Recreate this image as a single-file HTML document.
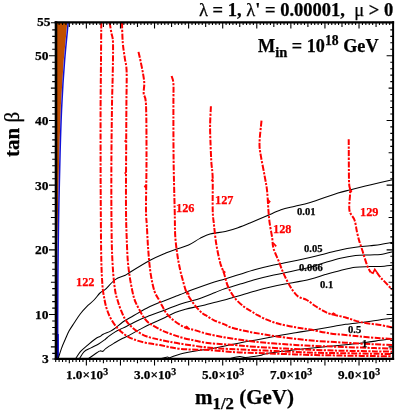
<!DOCTYPE html>
<html><head><meta charset="utf-8"><title>plot</title>
<style>
html,body{margin:0;padding:0;background:#fff;}
body{width:395px;height:415px;position:relative;overflow:hidden;font-family:"Liberation Serif",serif;}
.t{position:absolute;will-change:transform;-webkit-text-stroke:0.25px currentColor;white-space:nowrap;font-weight:bold;line-height:1;font-family:"Liberation Serif",serif;}
.n{font-weight:normal;}
sup,sub{line-height:0;}
</style></head><body>
<svg width="395" height="415" viewBox="0 0 395 415" style="position:absolute;left:0;top:0">
<path d="M56 22.5 L67.3 22.5 L63.7 60.6 L60.9 105 L59.3 152 L58.4 190 L57.7 225 L57.3 240 L56 240 Z" fill="#c04f00" stroke="none"/>
<path d="M68.2 22.5 C67.6 28.9 65.7 46.9 64.6 60.6 C63.5 74.3 62.5 89.8 61.8 105.0 C61.0 120.2 60.5 137.8 60.1 152.0 C59.7 166.2 59.5 177.8 59.2 190.0 C58.9 202.2 58.7 210.5 58.5 225.0 C58.3 239.5 58.0 261.2 57.9 277.0 C57.8 292.8 57.7 306.5 57.7 320.0 C57.7 333.5 57.7 351.7 57.7 358.0" fill="none" stroke="#1010d8" stroke-width="1.5"/>
<path d="M57.8 334.0 L57.8 358.0" fill="none" stroke="#0000c0" stroke-width="2.0"/>
<path d="M58.4 358.0 C58.9 356.4 60.3 351.7 61.4 348.6 C62.5 345.5 63.9 342.4 65.2 339.5 C66.5 336.6 67.5 333.9 69.0 331.1 C70.5 328.3 72.4 325.7 74.3 322.8 C76.2 319.9 78.4 316.4 80.4 313.7 C82.4 311.0 84.2 309.1 86.5 306.8 C88.8 304.5 91.8 302.3 94.0 300.0 C96.2 297.7 98.2 294.7 100.0 293.0 C101.8 291.3 102.5 291.9 105.0 289.7 C107.5 287.5 111.8 282.0 115.2 279.6 C118.6 277.2 122.8 276.6 125.3 275.3 C127.8 274.0 126.2 274.6 130.4 272.0 C134.6 269.4 144.7 263.2 150.6 260.0 C156.5 256.8 161.6 254.8 165.8 253.0 C170.0 251.2 172.2 250.5 176.0 249.2 C179.8 247.9 184.6 246.8 188.6 245.0 C192.6 243.2 196.4 240.2 200.0 238.4 C203.6 236.6 205.8 235.2 210.0 234.0 C214.2 232.8 220.6 232.6 225.3 231.5 C230.0 230.4 233.8 229.2 238.0 227.7 C242.2 226.2 246.0 224.6 250.6 222.7 C255.2 220.8 260.7 218.5 265.8 216.3 C270.9 214.2 276.1 211.5 281.0 209.8 C285.9 208.1 290.1 207.5 295.0 206.3 C299.9 205.1 303.0 204.7 310.2 202.5 C317.4 200.3 331.2 195.1 338.0 193.0 C344.8 190.9 345.2 191.2 350.7 189.8 C356.2 188.4 364.0 186.4 371.0 184.7 C378.0 183.0 388.9 180.5 392.5 179.7" fill="none" stroke="#000" stroke-width="1.05" stroke-linejoin="round"/>
<path d="M75.8 358.5 C76.6 357.4 78.4 353.9 80.4 351.6 C82.4 349.3 85.5 347.0 88.0 344.8 C90.5 342.6 93.6 340.1 95.6 338.7 C97.6 337.3 98.7 337.2 100.0 336.5 C101.3 335.8 101.4 335.1 103.2 334.2 C105.0 333.3 108.6 332.1 110.6 331.1 C112.6 330.1 113.2 329.6 115.2 328.1 C117.2 326.6 120.3 323.8 122.8 322.0 C125.3 320.2 127.6 319.1 130.4 317.5 C133.2 315.9 136.2 314.0 139.5 312.2 C142.8 310.4 146.6 308.2 150.0 306.6 C153.4 305.0 157.5 303.3 160.0 302.3 C162.5 301.3 162.6 301.6 165.1 300.6 C167.6 299.6 172.7 297.5 175.2 296.5 C177.8 295.5 176.9 295.9 180.2 294.6 C183.5 293.3 189.9 290.7 195.0 288.8 C200.1 286.9 205.6 284.9 210.6 283.2 C215.6 281.5 220.1 280.4 225.0 278.9 C229.9 277.4 235.1 275.8 240.2 274.2 C245.3 272.6 250.3 271.0 255.4 269.6 C260.5 268.2 265.7 266.9 270.6 265.8 C275.5 264.7 278.4 264.2 285.0 262.8 C291.6 261.4 303.3 259.0 310.0 257.5 C316.7 256.0 320.1 255.0 325.2 253.7 C330.3 252.4 335.3 251.0 340.4 249.9 C345.5 248.8 350.7 248.0 355.6 247.3 C360.5 246.6 365.8 246.3 370.0 245.8 C374.2 245.3 376.9 245.1 380.6 244.5 C384.4 243.9 390.5 242.7 392.5 242.3" fill="none" stroke="#000" stroke-width="1.05" stroke-linejoin="round"/>
<path d="M79.6 358.5 C80.4 357.4 82.3 353.4 84.2 351.6 C86.1 349.8 88.6 349.2 91.0 347.9 C93.4 346.6 96.3 345.4 98.6 344.0 C100.9 342.6 103.2 340.9 104.7 339.8 C106.2 338.7 105.8 338.5 107.6 337.2 C109.3 335.9 112.7 333.4 115.2 331.9 C117.7 330.4 120.3 329.4 122.8 328.1 C125.3 326.8 127.6 325.7 130.4 324.3 C133.2 322.9 136.2 321.1 139.5 319.7 C142.8 318.2 145.7 317.2 150.0 315.6 C154.3 314.0 160.9 311.6 165.1 310.0 C169.3 308.4 171.9 307.1 175.2 305.9 C178.6 304.7 182.1 303.6 185.4 302.6 C188.7 301.6 191.7 301.0 195.0 300.0 C198.3 299.0 201.7 297.7 205.1 296.4 C208.5 295.1 211.9 293.7 215.2 292.4 C218.6 291.1 221.2 289.9 225.4 288.5 C229.6 287.1 235.2 285.6 240.2 284.1 C245.2 282.6 250.3 280.9 255.4 279.5 C260.5 278.1 265.7 276.8 270.6 275.7 C275.5 274.6 278.4 274.1 285.0 272.7 C291.6 271.3 303.3 269.0 310.0 267.3 C316.7 265.6 320.1 264.0 325.2 262.5 C330.3 261.0 335.3 259.4 340.4 258.2 C345.5 257.0 350.7 256.1 355.6 255.5 C360.5 254.9 365.8 255.1 370.0 254.9 C374.2 254.7 376.9 255.0 380.6 254.5 C384.4 254.0 390.5 252.2 392.5 251.7" fill="none" stroke="#000" stroke-width="1.05" stroke-linejoin="round"/>
<path d="M88.7 358.5 C89.6 357.9 92.3 355.8 94.0 354.7 C95.7 353.6 97.6 352.2 98.6 351.6 C99.6 351.0 99.3 350.9 100.0 350.9 C100.7 350.8 102.0 351.7 103.0 351.3 C104.0 350.9 104.0 349.8 106.0 348.3 C108.0 346.8 112.4 344.2 115.2 342.5 C118.0 340.8 120.3 339.6 122.8 338.3 C125.3 337.0 127.6 336.1 130.4 334.6 C133.2 333.2 136.2 331.3 139.5 329.6 C142.8 327.9 145.7 326.3 150.0 324.3 C154.3 322.3 160.9 319.3 165.1 317.4 C169.3 315.4 171.9 314.0 175.2 312.6 C178.6 311.2 182.1 310.2 185.4 309.3 C188.7 308.4 191.7 307.8 195.0 307.1 C198.3 306.4 201.7 305.7 205.1 304.9 C208.5 304.1 211.9 303.0 215.2 302.2 C218.6 301.4 221.2 300.9 225.4 299.8 C229.6 298.7 235.2 296.9 240.2 295.4 C245.2 293.9 250.3 292.3 255.4 290.9 C260.5 289.5 265.7 288.2 270.6 287.1 C275.5 286.0 278.4 285.4 285.0 284.1 C291.6 282.8 303.3 280.8 310.0 279.2 C316.7 277.6 320.1 276.1 325.2 274.6 C330.3 273.1 335.3 271.6 340.4 270.4 C345.5 269.2 350.7 267.9 355.6 267.3 C360.5 266.7 365.8 266.8 370.0 266.6 C374.2 266.5 376.9 266.6 380.6 266.4 C384.4 266.2 390.5 265.4 392.5 265.2" fill="none" stroke="#000" stroke-width="1.05" stroke-linejoin="round"/>
<path d="M161.4 358.5 C162.4 358.2 166.1 357.1 167.5 357.0 C168.9 356.9 167.5 358.2 169.7 357.7 C171.8 357.2 176.1 355.0 180.4 353.9 C184.7 352.8 190.7 351.7 195.6 350.9 C200.5 350.1 204.2 349.9 210.0 348.9 C215.8 347.9 224.5 346.0 230.4 344.8 C236.3 343.6 240.7 342.7 245.6 341.8 C250.5 340.9 254.2 340.3 260.0 339.2 C265.8 338.1 274.5 336.3 280.4 335.2 C286.3 334.1 290.7 333.5 295.6 332.7 C300.5 331.9 304.2 331.3 310.0 330.4 C315.8 329.4 324.5 328.0 330.4 327.0 C336.3 326.0 339.8 325.1 345.6 324.3 C351.4 323.5 359.6 322.8 365.4 322.0 C371.2 321.2 376.2 320.3 380.6 319.7 C385.0 319.1 390.1 318.4 392.0 318.2" fill="none" stroke="#000" stroke-width="1.05" stroke-linejoin="round"/>
<path d="M228.9 358.9 C230.7 358.5 236.7 356.8 239.5 356.5 C242.3 356.2 242.2 357.6 245.6 357.4 C249.0 357.2 256.7 356.0 260.0 355.4 C263.3 354.8 261.8 354.5 265.2 353.9 C268.6 353.3 275.3 352.3 280.4 351.6 C285.5 350.9 290.7 350.4 295.6 349.8 C300.5 349.2 304.2 348.9 310.0 348.3 C315.8 347.7 324.5 346.9 330.4 346.3 C336.3 345.7 339.8 345.4 345.6 344.8 C351.4 344.2 359.6 343.2 365.4 342.5 C371.2 341.8 376.2 340.9 380.6 340.3 C385.0 339.7 390.1 339.0 392.0 338.7" fill="none" stroke="#000" stroke-width="1.05" stroke-linejoin="round"/>
<path d="M101.3 22.5 C101.2 28.8 101.1 46.2 101.0 60.0 C100.9 73.8 100.7 88.3 100.6 105.0 C100.5 121.7 100.6 142.5 100.6 160.0 C100.6 177.5 100.7 193.3 100.8 210.0 C100.9 226.7 101.0 247.3 101.3 260.0 C101.6 272.7 102.0 279.3 102.5 286.0 C103.0 292.7 103.9 296.2 104.6 300.0 C105.3 303.8 105.8 306.0 106.8 309.0 C107.8 312.0 108.9 315.1 110.6 318.2 C112.2 321.2 114.4 324.6 116.7 327.3 C119.0 330.0 121.5 332.2 124.3 334.2 C127.1 336.2 129.8 337.8 133.4 339.2 C137.0 340.6 141.2 341.8 145.6 342.8 C150.0 343.8 154.2 344.1 160.0 345.1 C165.8 346.1 172.1 348.1 180.4 348.9 C188.7 349.7 200.9 349.6 210.0 350.1 C219.1 350.7 227.5 351.7 235.0 352.2 C242.5 352.7 248.3 352.8 255.0 353.0 C261.7 353.2 268.3 353.5 275.0 353.7 C281.7 353.9 288.3 354.2 295.0 354.4 C301.7 354.6 308.3 354.9 315.0 355.1 C321.7 355.2 328.3 355.3 335.0 355.4 C341.7 355.6 348.3 355.7 355.0 355.8 C361.7 355.9 368.8 356.0 375.0 356.1 C381.2 356.2 389.2 356.3 392.0 356.3" fill="none" stroke="#ff0000" stroke-width="2.0" stroke-dasharray="6 1.4 2.2 1.5" stroke-linejoin="round"/>
<path d="M109.6 22.5 C109.9 24.2 110.8 29.6 111.4 33.0 C112.0 36.4 112.8 35.8 113.0 43.0 C113.2 50.2 112.9 65.7 112.7 76.0 C112.5 86.3 112.2 91.0 112.0 105.0 C111.8 119.0 111.5 142.5 111.4 160.0 C111.3 177.5 111.3 195.3 111.4 210.0 C111.5 224.7 111.6 237.4 111.9 248.0 C112.2 258.6 112.7 266.1 113.2 273.3 C113.8 280.5 114.5 286.6 115.2 291.0 C115.9 295.4 116.6 297.0 117.5 300.0 C118.4 303.0 119.2 305.9 120.5 309.1 C121.8 312.3 123.3 316.2 125.0 319.0 C126.7 321.8 128.2 323.7 130.4 325.8 C132.6 327.9 135.2 330.1 138.0 331.9 C140.8 333.7 143.3 335.2 147.0 336.5 C150.7 337.8 154.4 338.6 160.0 339.8 C165.6 341.0 172.1 342.4 180.4 343.7 C188.7 345.0 200.9 346.9 210.0 347.8 C219.1 348.7 227.5 348.8 235.0 349.2 C242.5 349.6 248.3 349.9 255.0 350.2 C261.7 350.5 268.3 350.7 275.0 351.0 C281.7 351.3 288.3 351.6 295.0 351.9 C301.7 352.2 308.3 352.5 315.0 352.7 C321.7 352.9 328.3 353.0 335.0 353.1 C341.7 353.2 348.3 353.3 355.0 353.4 C361.7 353.5 368.8 353.6 375.0 353.8 C381.2 353.9 389.2 354.0 392.0 354.0" fill="none" stroke="#ff0000" stroke-width="2.0" stroke-dasharray="6 1.4 2.2 1.5" stroke-linejoin="round"/>
<path d="M122.0 22.5 C122.1 25.9 122.3 37.0 122.8 43.0 C123.3 49.0 124.2 53.6 124.8 58.2 C125.4 62.9 126.3 63.1 126.6 70.9 C126.9 78.7 126.5 90.2 126.4 105.0 C126.3 119.8 126.2 142.5 126.1 160.0 C126.0 177.5 125.9 197.4 126.0 210.0 C126.1 222.6 126.3 226.9 126.6 235.3 C126.9 243.7 127.2 253.0 127.8 260.6 C128.4 268.2 129.3 274.6 130.4 280.9 C131.5 287.2 132.8 294.0 134.2 298.6 C135.6 303.2 137.2 305.4 138.7 308.4 C140.2 311.4 141.7 314.3 143.3 316.7 C145.0 319.1 146.2 320.9 148.6 322.8 C151.0 324.7 154.8 326.6 157.6 328.1 C160.4 329.6 161.4 330.4 165.2 331.9 C169.0 333.4 175.3 335.7 180.4 337.2 C185.5 338.7 190.7 339.7 195.6 340.7 C200.5 341.7 203.4 342.6 210.0 343.3 C216.6 344.0 227.5 344.5 235.0 345.1 C242.5 345.7 248.3 346.3 255.0 346.8 C261.7 347.3 268.3 347.6 275.0 348.0 C281.7 348.4 288.3 348.8 295.0 349.1 C301.7 349.4 308.3 349.8 315.0 350.0 C321.7 350.2 328.3 350.4 335.0 350.6 C341.7 350.7 348.3 350.9 355.0 351.0 C361.7 351.1 368.8 351.3 375.0 351.4 C381.2 351.5 389.2 351.6 392.0 351.7" fill="none" stroke="#ff0000" stroke-width="2.0" stroke-dasharray="6 1.4 2.2 1.5" stroke-linejoin="round"/>
<path d="M138.5 51.9 C138.8 53.4 139.8 57.2 140.5 60.8 C141.2 64.4 142.4 69.6 143.0 73.4 C143.6 77.2 144.2 80.1 144.3 83.5 C144.4 86.9 143.4 90.1 143.7 93.7 C144.0 97.3 145.5 94.0 146.0 105.0 C146.5 116.0 146.5 142.5 146.5 160.0 C146.5 177.5 145.9 199.2 146.0 210.0 C146.1 220.8 146.5 218.7 146.8 225.0 C147.2 231.3 147.5 239.9 148.1 248.0 C148.7 256.1 149.5 266.1 150.6 273.3 C151.7 280.5 153.0 286.6 154.4 291.0 C155.8 295.4 157.8 297.5 159.1 300.0 C160.4 302.5 160.9 303.7 162.2 306.0 C163.5 308.3 164.9 311.4 166.7 313.7 C168.5 316.0 170.5 317.8 172.8 319.7 C175.1 321.6 178.1 323.6 180.4 325.0 C182.7 326.4 184.0 327.2 186.5 328.1 C189.0 329.0 191.7 329.3 195.6 330.4 C199.5 331.5 203.4 333.2 210.0 334.6 C216.6 336.0 227.5 337.9 235.0 339.1 C242.5 340.2 248.3 340.9 255.0 341.7 C261.7 342.5 268.3 343.1 275.0 343.6 C281.7 344.1 288.3 344.5 295.0 344.9 C301.7 345.3 308.3 345.6 315.0 345.9 C321.7 346.2 328.3 346.4 335.0 346.7 C341.7 346.9 348.3 347.2 355.0 347.4 C361.7 347.6 368.8 347.9 375.0 348.1 C381.2 348.3 389.2 348.6 392.0 348.7" fill="none" stroke="#ff0000" stroke-width="2.0" stroke-dasharray="6 1.4 2.2 1.5" stroke-linejoin="round"/>
<path d="M171.6 76.0 C171.9 77.2 173.1 78.7 173.4 83.5 C173.7 88.3 173.4 92.2 173.4 105.0 C173.4 117.8 173.4 142.5 173.6 160.0 C173.8 177.5 174.4 197.4 174.7 210.0 C175.0 222.6 174.8 227.8 175.2 235.3 C175.6 242.8 176.6 249.2 177.4 255.0 C178.2 260.8 179.3 266.0 180.2 270.0 C181.0 274.0 181.6 275.8 182.5 279.1 C183.4 282.4 184.6 287.1 185.5 289.7 C186.4 292.3 186.7 292.8 187.8 294.8 C188.9 296.8 190.7 299.6 192.3 301.9 C194.0 304.2 195.9 306.7 197.7 308.7 C199.5 310.7 201.5 312.6 203.0 313.8 C204.5 315.0 205.0 314.8 206.8 315.8 C208.6 316.9 210.6 318.6 213.6 320.1 C216.6 321.6 222.2 323.4 225.0 324.6 C227.8 325.8 227.0 326.2 230.4 327.3 C233.8 328.4 240.7 330.0 245.6 331.1 C250.5 332.2 255.1 332.9 260.0 333.7 C264.9 334.5 269.2 335.3 275.0 336.2 C280.8 337.1 288.3 338.0 295.0 338.8 C301.7 339.6 308.3 340.3 315.0 340.9 C321.7 341.4 328.3 341.7 335.0 342.1 C341.7 342.5 348.3 342.9 355.0 343.3 C361.7 343.7 368.8 344.0 375.0 344.3 C381.2 344.6 389.2 345.0 392.0 345.1" fill="none" stroke="#ff0000" stroke-width="2.0" stroke-dasharray="6 1.4 2.2 1.5" stroke-linejoin="round"/>
<path d="M210.9 106.3 C210.8 109.4 210.2 118.5 210.1 125.0 C210.0 131.5 210.4 139.2 210.6 145.5 C210.8 151.8 211.1 157.5 211.4 163.0 C211.8 168.5 212.5 170.6 212.7 178.4 C212.9 186.2 212.5 202.2 212.7 210.0 C212.9 217.8 213.4 219.1 214.0 225.0 C214.6 230.9 215.4 239.0 216.5 245.4 C217.6 251.8 219.1 258.6 220.3 263.2 C221.6 267.8 222.8 269.5 224.0 273.3 C225.2 277.1 226.1 282.0 227.8 286.0 C229.5 290.0 231.5 293.8 234.2 297.3 C236.9 300.8 241.1 304.5 244.0 306.8 C246.9 309.1 249.3 310.0 251.6 311.4 C253.9 312.8 255.3 313.9 257.6 315.2 C259.9 316.5 262.7 317.9 265.2 319.0 C267.7 320.1 270.3 321.1 272.8 322.0 C275.3 322.9 276.6 323.4 280.4 324.3 C284.2 325.2 290.7 326.4 295.6 327.3 C300.5 328.2 304.2 328.6 310.0 329.6 C315.8 330.6 323.7 332.4 330.4 333.4 C337.1 334.4 344.4 334.8 350.2 335.4 C356.0 336.0 360.4 336.5 365.4 337.0 C370.4 337.5 375.6 337.9 380.0 338.2 C384.4 338.5 390.0 338.9 392.0 339.0" fill="none" stroke="#ff0000" stroke-width="2.0" stroke-dasharray="6 1.4 2.2 1.5" stroke-linejoin="round"/>
<path d="M261.5 120.7 C261.2 124.4 259.6 137.2 259.5 143.0 C259.4 148.8 259.9 150.1 260.8 155.6 C261.7 161.1 263.6 170.0 264.6 175.9 C265.7 181.8 266.5 185.3 267.1 191.0 C267.7 196.7 268.0 204.7 268.4 210.0 C268.8 215.3 269.0 218.1 269.6 222.7 C270.2 227.3 271.6 233.6 272.2 237.8 C272.8 242.0 272.3 244.2 273.4 248.0 C274.4 251.8 276.8 256.4 278.5 260.6 C280.2 264.8 281.6 269.1 283.5 273.3 C285.4 277.5 287.6 282.2 289.9 286.0 C292.2 289.8 294.7 293.7 297.5 296.0 C300.3 298.3 303.9 298.3 306.8 300.0 C309.8 301.7 312.5 304.2 315.2 306.0 C317.9 307.8 320.3 309.3 322.8 310.6 C325.3 311.9 326.6 312.9 330.4 314.0 C334.2 315.1 340.7 316.2 345.6 317.5 C350.5 318.8 354.2 320.7 360.0 322.0 C365.8 323.3 375.3 324.2 380.6 325.1 C385.9 326.0 390.1 327.2 392.0 327.6" fill="none" stroke="#ff0000" stroke-width="2.0" stroke-dasharray="6 1.4 2.2 1.5" stroke-linejoin="round"/>
<path d="M348.7 139.2 C348.8 146.2 348.8 172.4 349.0 181.0 C349.2 189.6 350.1 186.2 350.2 191.0 C350.3 195.8 348.7 205.2 349.4 210.0 C350.1 214.8 353.2 216.3 354.5 220.0 C355.8 223.7 356.2 228.5 357.0 232.0 C357.8 235.5 358.4 238.1 359.3 241.1 C360.2 244.1 361.4 247.4 362.3 250.2 C363.2 253.0 363.7 255.0 364.6 257.8 C365.5 260.6 366.7 264.5 367.7 266.9 C368.7 269.3 370.2 271.4 370.7 272.3" fill="none" stroke="#ff0000" stroke-width="2.0" stroke-dasharray="6 1.4 2.2 1.5" stroke-linejoin="round"/>
<path d="M376.8 272.3 C377.4 273.2 379.2 276.0 380.6 277.6 C382.0 279.2 383.2 280.1 385.1 282.1 C387.0 284.1 390.9 288.4 392.0 289.7" fill="none" stroke="#ff0000" stroke-width="2.0" stroke-dasharray="6 1.4 2.2 1.5" stroke-linejoin="round"/>
<path d="M370.7 272.3 L373.0 273.2 L374.8 269.4 L376.8 272.3" fill="none" stroke="#ff0000" stroke-width="1.6"/>
<path d="M126.2 140.2 L124.5 141.6" fill="none" stroke="#ff0000" stroke-width="1.6"/>
<path d="M126.2 172.2 L124.6 173.6" fill="none" stroke="#ff0000" stroke-width="1.6"/>
<path d="M146.4 184.8 L144.8 186.4 L146.0 188.0" fill="none" stroke="#ff0000" stroke-width="1.6"/>
<path d="M213.0 179.0 L211.3 180.8" fill="none" stroke="#ff0000" stroke-width="1.6"/>
<path d="M267.5 199.5 L269.7 201.6 L268.2 203.4" fill="none" stroke="#ff0000" stroke-width="1.6"/>
<path d="M273.2 243.0 L276.2 246.4" fill="none" stroke="#ff0000" stroke-width="1.6"/>
<path d="M222.6 270.4 L225.4 272.6" fill="none" stroke="#ff0000" stroke-width="1.6"/>
<path d="M186.8 291.6 L189.2 294.6" fill="none" stroke="#ff0000" stroke-width="1.6"/>
<path d="M184.8 327.9 L186.6 326.6 L188.4 328.0" fill="none" stroke="#ff0000" stroke-width="1.6"/>
<path d="M331.5 314.6 L333.4 313.2 L335.4 314.4" fill="none" stroke="#ff0000" stroke-width="1.6"/>
<path d="M349.6 189.0 L351.4 191.0 L349.8 193.0" fill="none" stroke="#ff0000" stroke-width="1.6"/>
<path d="M55.70 22.30 v2.80 M55.70 358.90 v3.00 M59.11 22.30 v2.80 M59.11 358.90 v3.00 M62.52 22.30 v2.80 M62.52 358.90 v3.00 M65.92 22.30 v2.80 M65.92 358.90 v3.00 M69.33 22.30 v4.80 M69.33 358.90 v4.30 M72.74 22.30 v2.80 M72.74 358.90 v3.00 M76.15 22.30 v2.80 M76.15 358.90 v3.00 M79.56 22.30 v2.80 M79.56 358.90 v3.00 M82.96 22.30 v2.80 M82.96 358.90 v3.00 M86.37 22.30 v6.30 M86.37 358.90 v6.50 M89.78 22.30 v2.80 M89.78 358.90 v3.00 M93.19 22.30 v2.80 M93.19 358.90 v3.00 M96.60 22.30 v2.80 M96.60 358.90 v3.00 M100.01 22.30 v2.80 M100.01 358.90 v3.00 M103.41 22.30 v4.80 M103.41 358.90 v4.30 M106.82 22.30 v2.80 M106.82 358.90 v3.00 M110.23 22.30 v2.80 M110.23 358.90 v3.00 M113.64 22.30 v2.80 M113.64 358.90 v3.00 M117.05 22.30 v2.80 M117.05 358.90 v3.00 M120.45 22.30 v6.30 M120.45 358.90 v6.50 M123.86 22.30 v2.80 M123.86 358.90 v3.00 M127.27 22.30 v2.80 M127.27 358.90 v3.00 M130.68 22.30 v2.80 M130.68 358.90 v3.00 M134.09 22.30 v2.80 M134.09 358.90 v3.00 M137.49 22.30 v4.80 M137.49 358.90 v4.30 M140.90 22.30 v2.80 M140.90 358.90 v3.00 M144.31 22.30 v2.80 M144.31 358.90 v3.00 M147.72 22.30 v2.80 M147.72 358.90 v3.00 M151.13 22.30 v2.80 M151.13 358.90 v3.00 M154.53 22.30 v6.30 M154.53 358.90 v6.50 M157.94 22.30 v2.80 M157.94 358.90 v3.00 M161.35 22.30 v2.80 M161.35 358.90 v3.00 M164.76 22.30 v2.80 M164.76 358.90 v3.00 M168.17 22.30 v2.80 M168.17 358.90 v3.00 M171.57 22.30 v4.80 M171.57 358.90 v4.30 M174.98 22.30 v2.80 M174.98 358.90 v3.00 M178.39 22.30 v2.80 M178.39 358.90 v3.00 M181.80 22.30 v2.80 M181.80 358.90 v3.00 M185.21 22.30 v2.80 M185.21 358.90 v3.00 M188.62 22.30 v6.30 M188.62 358.90 v6.50 M192.02 22.30 v2.80 M192.02 358.90 v3.00 M195.43 22.30 v2.80 M195.43 358.90 v3.00 M198.84 22.30 v2.80 M198.84 358.90 v3.00 M202.25 22.30 v2.80 M202.25 358.90 v3.00 M205.66 22.30 v4.80 M205.66 358.90 v4.30 M209.06 22.30 v2.80 M209.06 358.90 v3.00 M212.47 22.30 v2.80 M212.47 358.90 v3.00 M215.88 22.30 v2.80 M215.88 358.90 v3.00 M219.29 22.30 v2.80 M219.29 358.90 v3.00 M222.70 22.30 v6.30 M222.70 358.90 v6.50 M226.10 22.30 v2.80 M226.10 358.90 v3.00 M229.51 22.30 v2.80 M229.51 358.90 v3.00 M232.92 22.30 v2.80 M232.92 358.90 v3.00 M236.33 22.30 v2.80 M236.33 358.90 v3.00 M239.74 22.30 v4.80 M239.74 358.90 v4.30 M243.14 22.30 v2.80 M243.14 358.90 v3.00 M246.55 22.30 v2.80 M246.55 358.90 v3.00 M249.96 22.30 v2.80 M249.96 358.90 v3.00 M253.37 22.30 v2.80 M253.37 358.90 v3.00 M256.78 22.30 v6.30 M256.78 358.90 v6.50 M260.18 22.30 v2.80 M260.18 358.90 v3.00 M263.59 22.30 v2.80 M263.59 358.90 v3.00 M267.00 22.30 v2.80 M267.00 358.90 v3.00 M270.41 22.30 v2.80 M270.41 358.90 v3.00 M273.82 22.30 v4.80 M273.82 358.90 v4.30 M277.23 22.30 v2.80 M277.23 358.90 v3.00 M280.63 22.30 v2.80 M280.63 358.90 v3.00 M284.04 22.30 v2.80 M284.04 358.90 v3.00 M287.45 22.30 v2.80 M287.45 358.90 v3.00 M290.86 22.30 v6.30 M290.86 358.90 v6.50 M294.27 22.30 v2.80 M294.27 358.90 v3.00 M297.67 22.30 v2.80 M297.67 358.90 v3.00 M301.08 22.30 v2.80 M301.08 358.90 v3.00 M304.49 22.30 v2.80 M304.49 358.90 v3.00 M307.90 22.30 v4.80 M307.90 358.90 v4.30 M311.31 22.30 v2.80 M311.31 358.90 v3.00 M314.71 22.30 v2.80 M314.71 358.90 v3.00 M318.12 22.30 v2.80 M318.12 358.90 v3.00 M321.53 22.30 v2.80 M321.53 358.90 v3.00 M324.94 22.30 v6.30 M324.94 358.90 v6.50 M328.35 22.30 v2.80 M328.35 358.90 v3.00 M331.75 22.30 v2.80 M331.75 358.90 v3.00 M335.16 22.30 v2.80 M335.16 358.90 v3.00 M338.57 22.30 v2.80 M338.57 358.90 v3.00 M341.98 22.30 v4.80 M341.98 358.90 v4.30 M345.39 22.30 v2.80 M345.39 358.90 v3.00 M348.79 22.30 v2.80 M348.79 358.90 v3.00 M352.20 22.30 v2.80 M352.20 358.90 v3.00 M355.61 22.30 v2.80 M355.61 358.90 v3.00 M359.02 22.30 v6.30 M359.02 358.90 v6.50 M362.43 22.30 v2.80 M362.43 358.90 v3.00 M365.84 22.30 v2.80 M365.84 358.90 v3.00 M369.24 22.30 v2.80 M369.24 358.90 v3.00 M372.65 22.30 v2.80 M372.65 358.90 v3.00 M376.06 22.30 v4.80 M376.06 358.90 v4.30 M379.47 22.30 v2.80 M379.47 358.90 v3.00 M382.88 22.30 v2.80 M382.88 358.90 v3.00 M386.28 22.30 v2.80 M386.28 358.90 v3.00 M389.69 22.30 v2.80 M389.69 358.90 v3.00 M56.00 359.00 h-3.80 M393.10 359.00 h-2.80 M56.00 353.37 h-3.80 M393.10 353.37 h-2.80 M56.00 346.90 h-5.10 M393.10 346.90 h-4.50 M56.00 340.43 h-3.80 M393.10 340.43 h-2.80 M56.00 333.96 h-3.80 M393.10 333.96 h-2.80 M56.00 327.49 h-3.80 M393.10 327.49 h-2.80 M56.00 321.02 h-3.80 M393.10 321.02 h-2.80 M56.00 314.55 h-7.00 M393.10 314.55 h-6.50 M56.00 308.08 h-3.80 M393.10 308.08 h-2.80 M56.00 301.61 h-3.80 M393.10 301.61 h-2.80 M56.00 295.14 h-3.80 M393.10 295.14 h-2.80 M56.00 288.67 h-3.80 M393.10 288.67 h-2.80 M56.00 282.20 h-5.10 M393.10 282.20 h-4.50 M56.00 275.73 h-3.80 M393.10 275.73 h-2.80 M56.00 269.26 h-3.80 M393.10 269.26 h-2.80 M56.00 262.79 h-3.80 M393.10 262.79 h-2.80 M56.00 256.32 h-3.80 M393.10 256.32 h-2.80 M56.00 249.85 h-7.00 M393.10 249.85 h-6.50 M56.00 243.38 h-3.80 M393.10 243.38 h-2.80 M56.00 236.91 h-3.80 M393.10 236.91 h-2.80 M56.00 230.44 h-3.80 M393.10 230.44 h-2.80 M56.00 223.97 h-3.80 M393.10 223.97 h-2.80 M56.00 217.50 h-5.10 M393.10 217.50 h-4.50 M56.00 211.03 h-3.80 M393.10 211.03 h-2.80 M56.00 204.56 h-3.80 M393.10 204.56 h-2.80 M56.00 198.09 h-3.80 M393.10 198.09 h-2.80 M56.00 191.62 h-3.80 M393.10 191.62 h-2.80 M56.00 185.15 h-7.00 M393.10 185.15 h-6.50 M56.00 178.68 h-3.80 M393.10 178.68 h-2.80 M56.00 172.21 h-3.80 M393.10 172.21 h-2.80 M56.00 165.74 h-3.80 M393.10 165.74 h-2.80 M56.00 159.27 h-3.80 M393.10 159.27 h-2.80 M56.00 152.80 h-5.10 M393.10 152.80 h-4.50 M56.00 146.33 h-3.80 M393.10 146.33 h-2.80 M56.00 139.86 h-3.80 M393.10 139.86 h-2.80 M56.00 133.39 h-3.80 M393.10 133.39 h-2.80 M56.00 126.92 h-3.80 M393.10 126.92 h-2.80 M56.00 120.45 h-7.00 M393.10 120.45 h-6.50 M56.00 113.98 h-3.80 M393.10 113.98 h-2.80 M56.00 107.51 h-3.80 M393.10 107.51 h-2.80 M56.00 101.04 h-3.80 M393.10 101.04 h-2.80 M56.00 94.57 h-3.80 M393.10 94.57 h-2.80 M56.00 88.10 h-5.10 M393.10 88.10 h-4.50 M56.00 81.63 h-3.80 M393.10 81.63 h-2.80 M56.00 75.16 h-3.80 M393.10 75.16 h-2.80 M56.00 68.69 h-3.80 M393.10 68.69 h-2.80 M56.00 62.22 h-3.80 M393.10 62.22 h-2.80 M56.00 55.75 h-7.00 M393.10 55.75 h-6.50 M56.00 49.28 h-3.80 M393.10 49.28 h-2.80 M56.00 42.81 h-3.80 M393.10 42.81 h-2.80 M56.00 36.34 h-3.80 M393.10 36.34 h-2.80 M56.00 29.87 h-3.80 M393.10 29.87 h-2.80 M56.00 22.70 h-5.10 M393.10 22.70 h-4.50" fill="none" stroke="#000" stroke-width="1.1"/>
<path d="M54.7 22.3 H394.1" stroke="#000" stroke-width="2.3" fill="none"/>
<path d="M54.7 358.9 H394.1" stroke="#000" stroke-width="2.2" fill="none"/>
<path d="M56.0 21.2 V360" stroke="#000" stroke-width="2.6" fill="none"/>
<path d="M393.1 21.2 V360" stroke="#000" stroke-width="2.0" fill="none"/>
</svg>
<div class="t" style="left:199.0px;top:0.8px;font-size:18.5px;color:#000;"><span class="n">&lambda;</span> = 1, <span class="n">&lambda;</span>' = 0.00001,&nbsp; <span class="n">&mu;</span> &gt; 0</div>
<div class="t" style="left:257.6px;top:37.0px;font-size:18.2px;color:#000;">M<sub style="font-size:0.8em">in</sub> = 10<sup style="font-size:0.75em">18</sup> GeV</div>
<div class="t" style="right:345.0px;top:14.9px;font-size:13.5px;">55</div>
<div class="t" style="right:346.4px;top:49.1px;font-size:13.5px;">50</div>
<div class="t" style="right:346.4px;top:113.8px;font-size:13.5px;">40</div>
<div class="t" style="right:346.4px;top:178.6px;font-size:13.5px;">30</div>
<div class="t" style="right:346.4px;top:243.2px;font-size:13.5px;">20</div>
<div class="t" style="right:346.4px;top:307.9px;font-size:13.5px;">10</div>
<div class="t" style="right:345.8px;top:351.7px;font-size:13.5px;">3</div>
<div class="t" style="left:56.6px;top:368.0px;font-size:13.2px;width:60px;text-align:center">1.0&times;10<sup style="font-size:0.75em;vertical-align:0.42em">3</sup></div>
<div class="t" style="left:124.7px;top:368.0px;font-size:13.2px;width:60px;text-align:center">3.0&times;10<sup style="font-size:0.75em;vertical-align:0.42em">3</sup></div>
<div class="t" style="left:192.9px;top:368.0px;font-size:13.2px;width:60px;text-align:center">5.0&times;10<sup style="font-size:0.75em;vertical-align:0.42em">3</sup></div>
<div class="t" style="left:261.1px;top:368.0px;font-size:13.2px;width:60px;text-align:center">7.0&times;10<sup style="font-size:0.75em;vertical-align:0.42em">3</sup></div>
<div class="t" style="left:329.2px;top:368.0px;font-size:13.2px;width:60px;text-align:center">9.0&times;10<sup style="font-size:0.75em;vertical-align:0.42em">3</sup></div>
<div class="t" style="left:195.0px;top:387.3px;font-size:21.0px;color:#000;">m<sub style="font-size:0.8em;vertical-align:-0.28em">1/2</sub> (GeV)</div>
<div class="t" style="left:1.5px;top:156.8px;font-size:21px;transform:rotate(-90deg);transform-origin:0 0;">tan <span class="n">&beta;</span></div>
<div class="t" style="left:76.3px;top:276.2px;font-size:12.3px;color:#ff0000;">122</div>
<div class="t" style="left:176.3px;top:201.5px;font-size:12.3px;color:#ff0000;">126</div>
<div class="t" style="left:215.3px;top:194.0px;font-size:12.3px;color:#ff0000;">127</div>
<div class="t" style="left:272.9px;top:222.5px;font-size:12.3px;color:#ff0000;">128</div>
<div class="t" style="left:360.3px;top:205.8px;font-size:12.3px;color:#ff0000;">129</div>
<div class="t" style="left:296.7px;top:207.2px;font-size:10.6px;color:#000;">0.01</div>
<div class="t" style="left:304.0px;top:243.6px;font-size:10.6px;color:#000;">0.05</div>
<div class="t" style="left:299.0px;top:262.9px;font-size:10.6px;color:#000;">0.066</div>
<div class="t" style="left:320.0px;top:280.3px;font-size:10.6px;color:#000;">0.1</div>
<div class="t" style="left:348.3px;top:325.3px;font-size:10.6px;color:#000;">0.5</div>
<div class="t" style="left:362.4px;top:338.6px;font-size:10.6px;color:#000;">1</div>
</body></html>
